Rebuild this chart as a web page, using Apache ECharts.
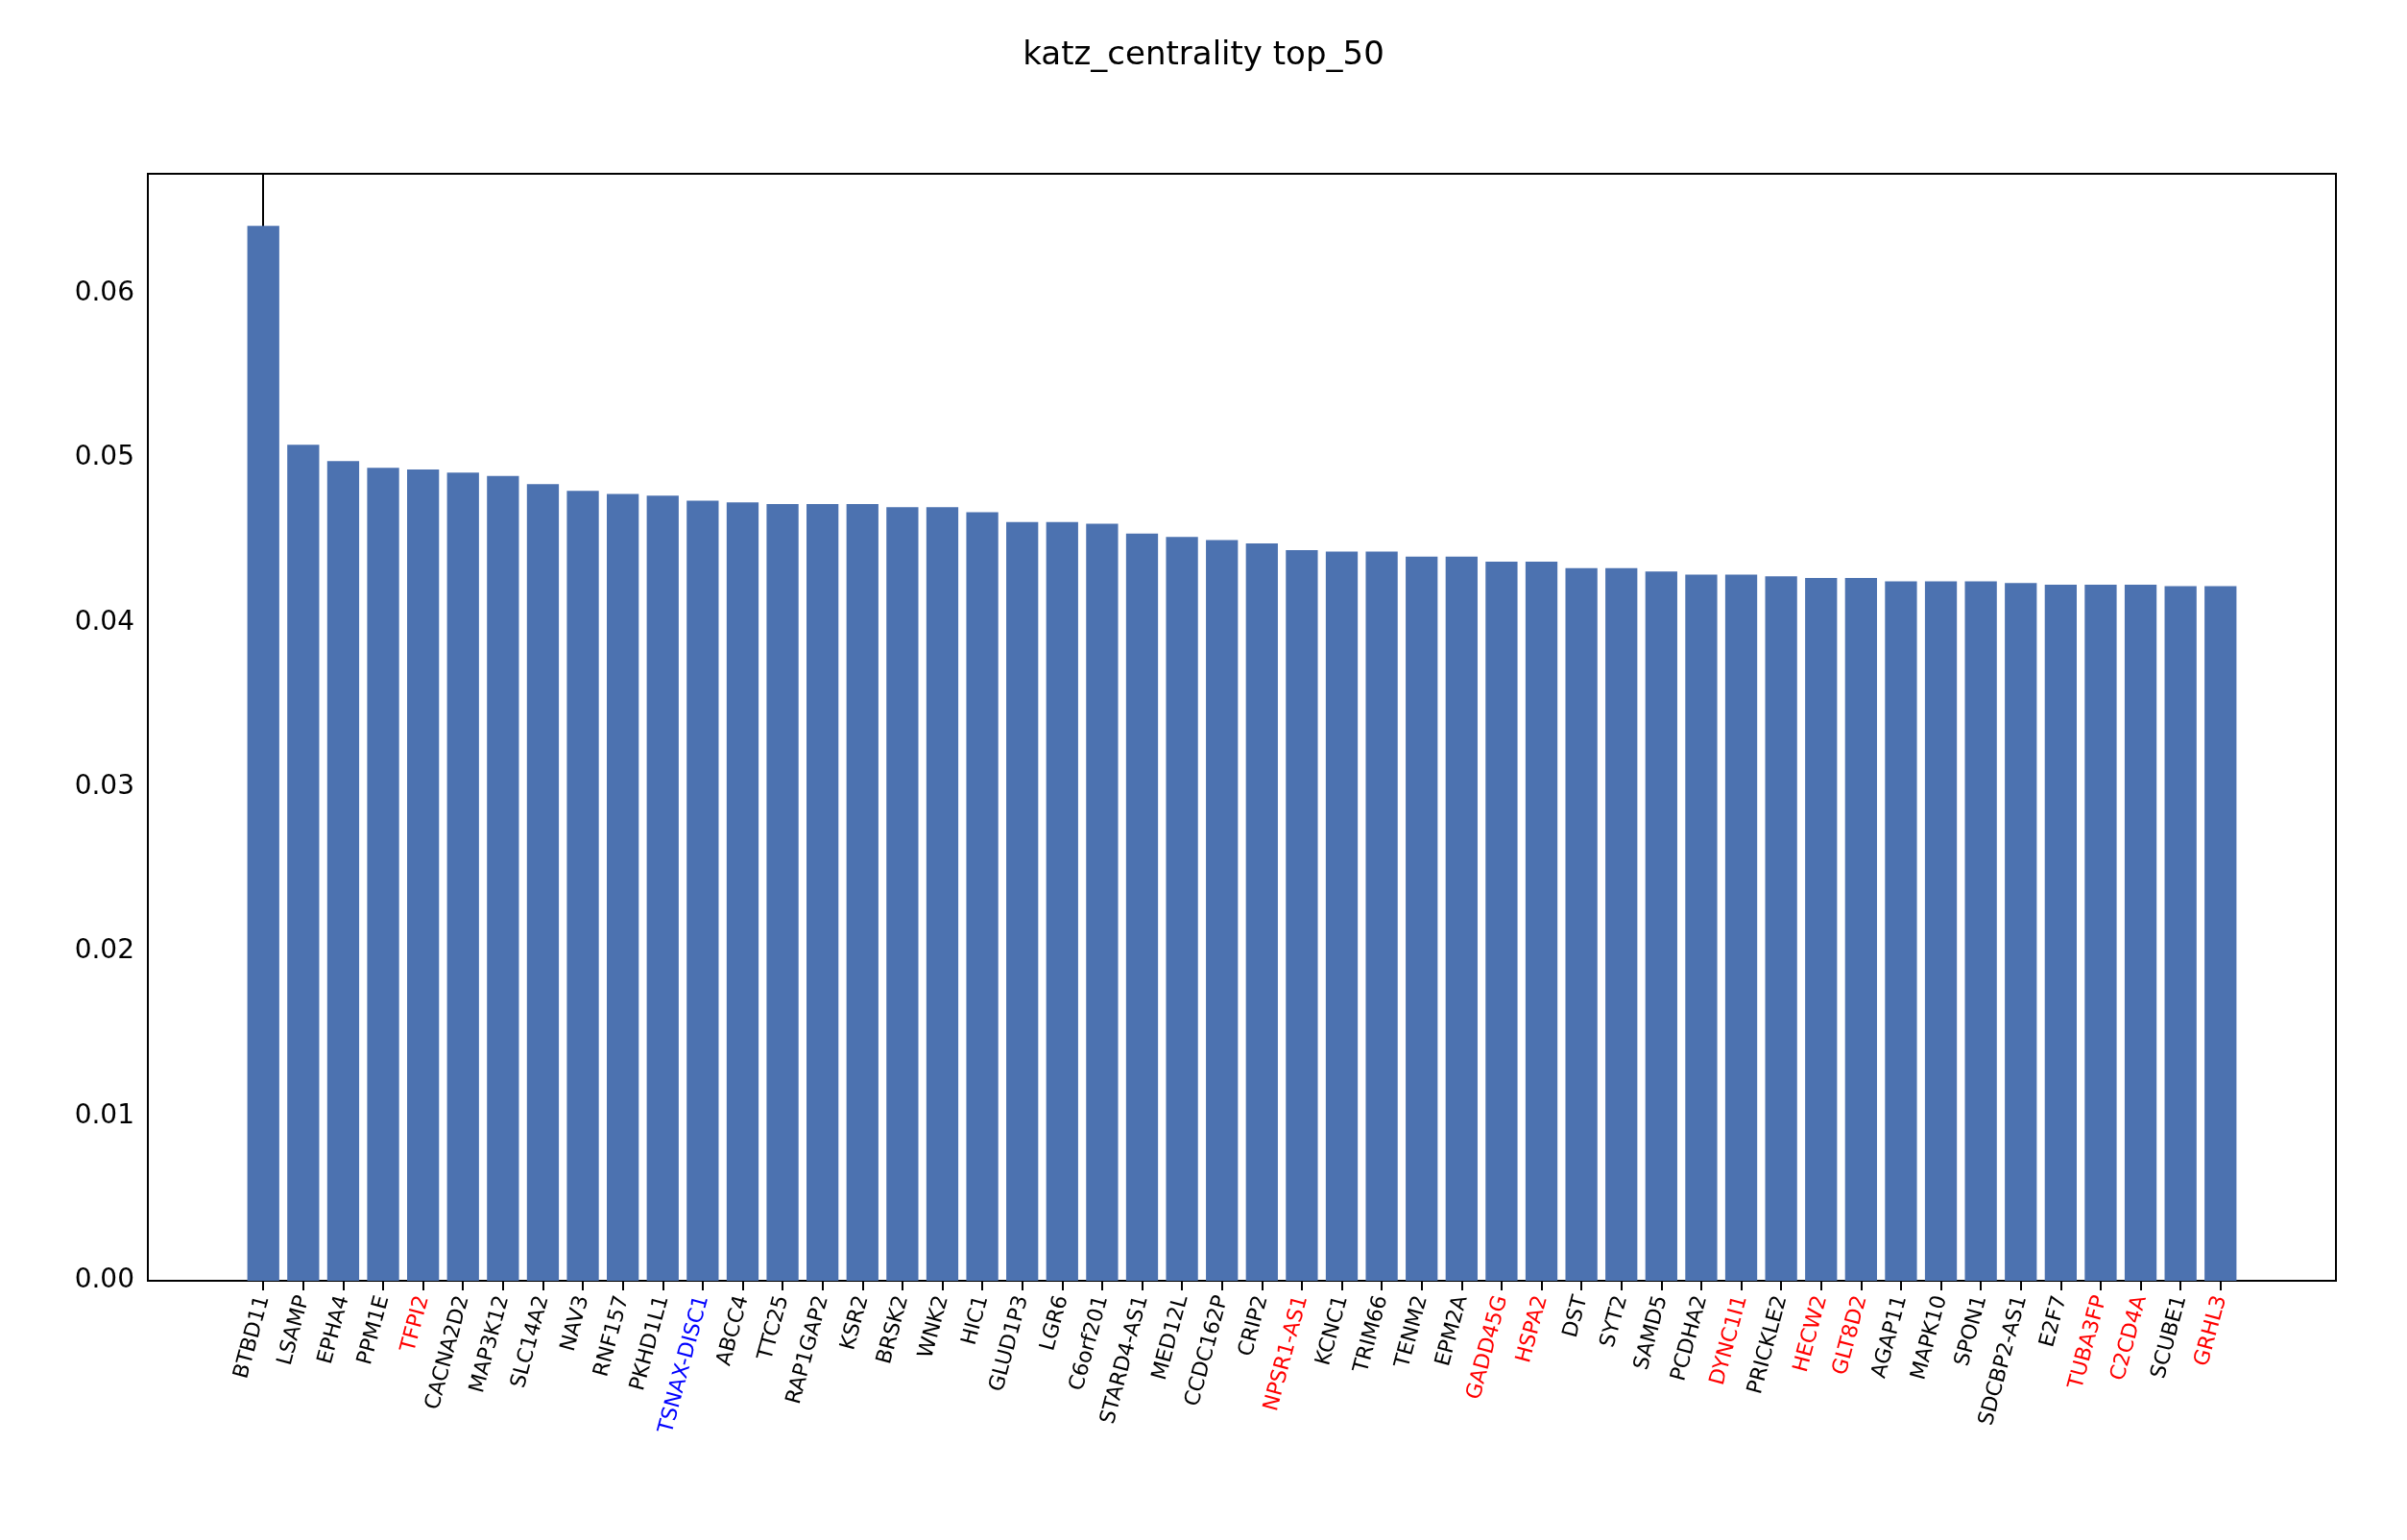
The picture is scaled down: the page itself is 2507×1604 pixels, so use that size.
<!DOCTYPE html>
<html><head><meta charset="utf-8">
<script src="https://cdn.jsdelivr.net/npm/echarts@6/dist/echarts.min.js"></script>
<style>html,body{margin:0;background:#fff}#c{width:2507px;height:1604px}</style>
</head><body><div id="c"></div>
<script>
const categories = ["BTBD11","LSAMP","EPHA4","PPM1E","TFPI2","CACNA2D2","MAP3K12","SLC14A2","NAV3","RNF157","PKHD1L1","TSNAX-DISC1","ABCC4","TTC25","RAP1GAP2","KSR2","BRSK2","WNK2","HIC1","GLUD1P3","LGR6","C6orf201","STARD4-AS1","MED12L","CCDC162P","CRIP2","NPSR1-AS1","KCNC1","TRIM66","TENM2","EPM2A","GADD45G","HSPA2","DST","SYT2","SAMD5","PCDHA2","DYNC1I1","PRICKLE2","HECW2","GLT8D2","AGAP11","MAPK10","SPON1","SDCBP2-AS1","E2F7","TUBA3FP","C2CD4A","SCUBE1","GRHL3"];
const values = [0.0641,0.0508,0.0498,0.0494,0.0493,0.0491,0.0489,0.0484,0.0480,0.0478,0.0477,0.0474,0.0473,0.0472,0.0472,0.0472,0.0470,0.0470,0.0467,0.0461,0.0461,0.0460,0.0454,0.0452,0.0450,0.0448,0.0444,0.0443,0.0443,0.0440,0.0440,0.0437,0.0437,0.0433,0.0433,0.0431,0.0429,0.0429,0.0428,0.0427,0.0427,0.0425,0.0425,0.0425,0.0424,0.0423,0.0423,0.0423,0.0422,0.0422];
const redLabels = ["TFPI2","NPSR1-AS1","GADD45G","HSPA2","DYNC1I1","HECW2","GLT8D2","TUBA3FP","C2CD4A","GRHL3"];
const blueLabels = ["TSNAX-DISC1"];
const yTicks = [0,0.01,0.02,0.03,0.04,0.05,0.06];

const gl=154, gr=74;
const xmin=-2.89, xmax=51.89;
const barW = (2507-gl-gr)/(xmax-xmin)*0.8;
const idx = categories.map((_,i)=>i);
const chart = echarts.init(document.getElementById('c'));
chart.setOption({
  animation:false,
  title:{text:'katz_centrality top_50',left:'center',top:36,textStyle:{fontFamily:'DejaVu Sans',fontSize:34,fontWeight:'normal',color:'#000'}},
  grid:{left:gl,right:gr,top:181,bottom:270,show:true,borderColor:'#000',borderWidth:2,backgroundColor:'transparent'},
  xAxis:{type:'value',min:xmin,max:xmax,splitLine:{show:false},
    axisLine:{lineStyle:{color:'#000',width:2}},
    axisTick:{customValues:idx,length:10,lineStyle:{color:'#000',width:2}},
    axisLabel:{customValues:idx,rotate:75,margin:16,fontFamily:'DejaVu Sans',fontSize:22,
      formatter:v=>{const n=categories[Math.round(v)];if(n===undefined)return '';
        const s=redLabels.includes(n)?'r':(blueLabels.includes(n)?'b':'k');return '{'+s+'|'+n+'}';},
      rich:{r:{color:'#ff0000',fontSize:22,fontFamily:'DejaVu Sans'},b:{color:'#0000ff',fontSize:22,fontFamily:'DejaVu Sans'},k:{color:'#000',fontSize:22,fontFamily:'DejaVu Sans'}}}},
  yAxis:{type:'value',min:0,max:0.06726,splitLine:{show:false},
    axisLine:{show:true,lineStyle:{color:'#000',width:2}},
    axisTick:{show:true,customValues:yTicks,length:10,lineStyle:{color:'#000',width:2}},
    axisLabel:{customValues:yTicks,color:'#000',fontFamily:'DejaVu Sans',fontSize:28,margin:14,formatter:v=>v.toFixed(2)}},
  series:[{type:'bar',barWidth:barW,itemStyle:{color:'#4c72b0'},data:values.map((v,i)=>[i,v])}]
});
</script></body></html>
